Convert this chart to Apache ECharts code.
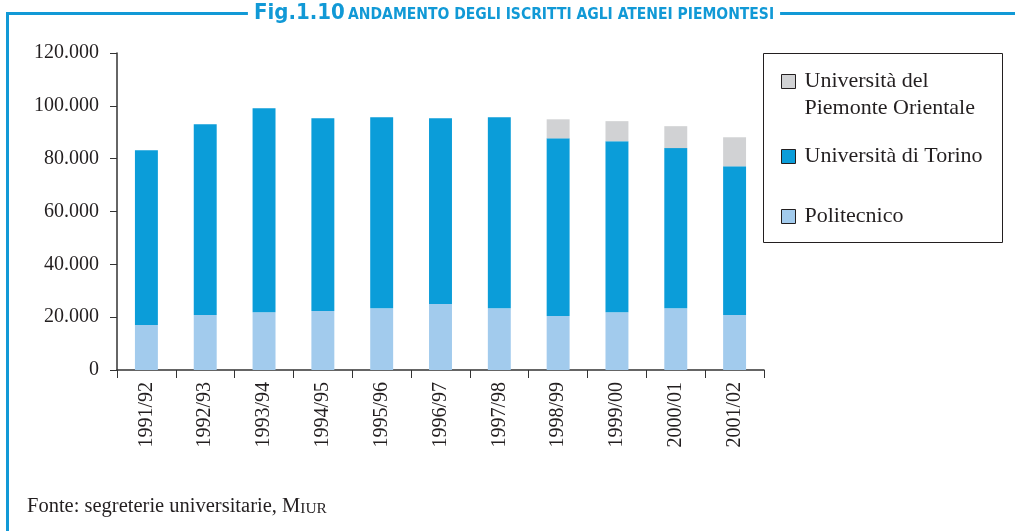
<!DOCTYPE html>
<html>
<head>
<meta charset="utf-8">
<script src="https://cdn.jsdelivr.net/npm/echarts@6/dist/echarts.min.js"></script>
<style>
  html, body { margin: 0; padding: 0; background: #fff; }
  #chart { width: 1015px; height: 531px; }
</style>
</head>
<body>
<div id="chart"></div>
<script>
// anni accademici
const years = ["1991/92", "1992/93", "1993/94", "1994/95", "1995/96", "1996/97",
  "1997/98", "1998/99", "1999/00", "2000/01", "2001/02"];

// iscritti per ateneo
const politecnico = [17000, 20800, 21900, 22300, 23400, 25000, 23400, 20400, 21900, 23400, 20800];
const torino = [66200, 72200, 77200, 73000, 72300, 70300, 72300, 67300, 64700, 60600, 56300];
const piemonteOrientale = [null, null, null, null, null, null, null, 7200, 7600, 8300, 11000];

const seriesNames = ["Politecnico", "Università di Torino", "Università del\nPiemonte Orientale"];
const seriesColors = ["#a2cbed", "#0b9dd9", "#d1d2d4"];

const serif = "Liberation Serif";
const ink = "#231f20";
const blue = "#1199d6";

function fmt(v) {
  return String(v).replace(/\B(?=(\d{3})+(?!\d))/g, ".");
}

const chart = echarts.init(document.getElementById("chart"));

function legendAt(name, top, formatter) {
  return {
    data: [{ name: name, icon: "rect" }],
    left: 776,
    top: top,
    itemWidth: 14,
    itemHeight: 14,
    itemGap: 0,
    selectedMode: false,
    formatter: formatter,
    itemStyle: { borderColor: "#231f20", borderWidth: 1 },
    textStyle: { fontFamily: serif, fontSize: 22, color: ink, lineHeight: 27, padding: [0, 0, 0, 4] }
  };
}

chart.setOption({
  animation: false,
  grid: { left: 117, right: 251, top: 53, bottom: 161 },
  legend: [
    // riga vuota in testa: l'icona resta allineata alla prima riga
    legendAt(seriesNames[2], 36, (n) => "\n" + n),
    legendAt(seriesNames[1], 138),
    legendAt(seriesNames[0], 198)
  ],
  xAxis: {
    type: "category",
    data: years,
    axisLine: { lineStyle: { color: "#333", width: 1.5 } },
    axisTick: { show: true, length: 8, lineStyle: { color: "#333" } },
    axisLabel: {
      rotate: 90, margin: 12,
      fontFamily: serif, fontSize: 20, color: ink
    }
  },
  yAxis: {
    type: "value",
    min: 0, max: 120000, interval: 20000,
    axisLine: { show: true, lineStyle: { color: "#333", width: 1.5 } },
    axisTick: { show: true, length: 7, lineStyle: { color: "#333" } },
    splitLine: { show: false },
    axisLabel: {
      margin: 18, formatter: fmt,
      fontFamily: serif, fontSize: 20, color: ink
    }
  },
  series: [
    { name: seriesNames[0], type: "bar", stack: "t", data: politecnico, barWidth: "39%",
      itemStyle: { color: seriesColors[0] } },
    { name: seriesNames[1], type: "bar", stack: "t", data: torino, barWidth: "39%",
      itemStyle: { color: seriesColors[1] } },
    { name: seriesNames[2], type: "bar", stack: "t", data: piemonteOrientale, barWidth: "39%",
      itemStyle: { color: seriesColors[2] } }
  ],
  graphic: [
    { type: "rect", shape: { x: 763.5, y: 53.5, width: 239, height: 189 },
      style: { fill: "none", stroke: "#231f20", lineWidth: 1 }, z: 0 },
    { type: "line", shape: { x1: 7.5, y1: 13.5, x2: 1015, y2: 13.5 },
      style: { stroke: blue, lineWidth: 3 }, z: 0 },
    { type: "line", shape: { x1: 7.5, y1: 12, x2: 7.5, y2: 531 },
      style: { stroke: blue, lineWidth: 3 }, z: 0 },
    { type: "text", x: 514, y: 13, z: 10,
      style: {
        text: "{a|Fig.1.10} {b|ANDAMENTO DEGLI ISCRITTI AGLI ATENEI PIEMONTESI}",
        align: "center", verticalAlign: "middle",
        backgroundColor: "#fff", padding: [0, 6],
        rich: {
          a: { fontFamily: "DejaVu Sans Condensed", fontWeight: "bold", fontSize: 22, fill: blue },
          b: { fontFamily: "DejaVu Sans Condensed", fontWeight: "bold", fontSize: 15.5, fill: blue, padding: [4, 0, 0, 0] }
        }
      } },
    { type: "text", x: 27, y: 507, z: 10,
      style: {
        text: "{a|Fonte: segreterie universitarie, M}{b|IUR}",
        verticalAlign: "middle",
        rich: {
          a: { fontFamily: serif, fontSize: 20.5, fill: ink },
          b: { fontFamily: serif, fontSize: 15.5, fill: ink, padding: [3, 0, 0, 0] }
        }
      } }
  ]
});
</script>
</body>
</html>
